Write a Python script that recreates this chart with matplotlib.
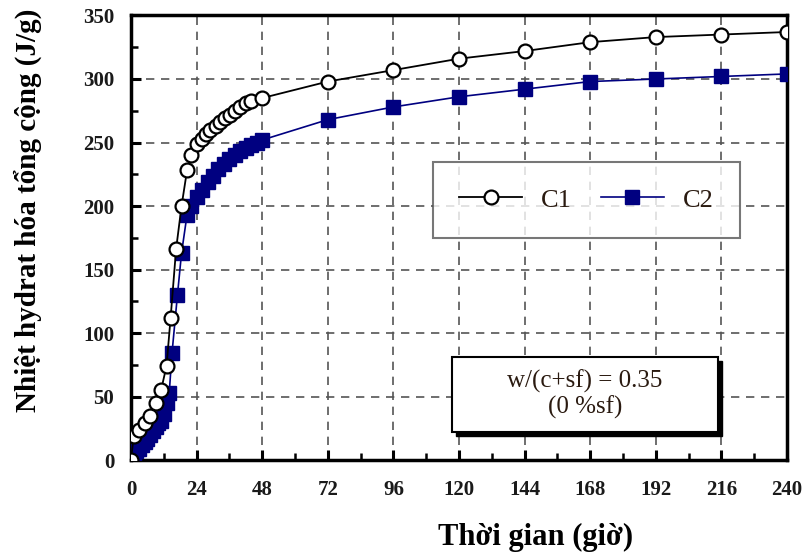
import numpy as np
import matplotlib.pyplot as plt
from matplotlib.patches import Rectangle

plt.rcParams['font.family'] = ['Liberation Serif', 'DejaVu Serif']

# C1
x_c1 = [0, 1, 3, 5, 7, 9, 11, 13, 14.5, 16.5, 18.5, 20.5, 22, 24, 26, 27.5,
        29, 31, 32.5, 34.5, 36.3, 38, 40, 42, 44, 48,
        72, 96, 120, 144, 168, 192, 216, 240]
y_c1 = [0, 19, 24, 29, 35, 45, 55, 74, 112, 166, 200, 228, 240, 249, 253, 257,
        260, 263, 266, 269, 272, 275, 278, 281, 283, 285,
        298, 307, 316, 322, 329, 333, 335, 337]

# C2
x_c2 = [0, 1, 2, 3, 4, 5, 6, 7, 8, 9, 10, 11, 12, 13, 14, 15, 17, 18.5, 20.5, 22,
        24, 26, 28, 30, 32, 34, 36, 38, 40, 42, 44, 46, 48,
        72, 96, 120, 144, 168, 192, 216, 240]
y_c2 = [2, 4, 7, 9, 12, 14, 17, 20, 23, 26, 29, 31, 36, 45, 53, 84, 130, 163, 193, 200,
        207, 213, 219, 224, 229, 233, 237, 240, 243, 246, 248, 250, 252,
        268, 278, 286, 292, 298, 300, 302, 304]

x_ticks = list(range(0, 241, 24))
y_ticks = list(range(0, 351, 50))

fig = plt.figure(figsize=(8.06, 5.53), dpi=100)
ax = fig.add_axes([0.1625, 0.168, 0.814, 0.804])

ax.plot(x_c1, y_c1, '-o', color='black', lw=1.3, ms=10, mfc='white',
        mec='black', mew=1.6, label='C1', zorder=4)
ax.plot(x_c2, y_c2, '-s', color='#000080', lw=1.2, ms=10.5, mfc='#000080',
        mec='#000080', label='C2', zorder=3)

ax.set_xlim(0, 240)
ax.set_ylim(0, 350)
ax.set_xticks(x_ticks)
ax.set_yticks(y_ticks)
ax.set_xticks(range(12, 240, 24), minor=True)
ax.set_yticks(range(25, 350, 50), minor=True)
ax.tick_params(which='major', direction='in', length=7, width=2.2,
               labelsize=15, labelcolor='#1a1a1a')
ax.tick_params(axis='x', which='major', pad=14)
ax.tick_params(axis='y', which='major', pad=12)
ax.tick_params(which='minor', direction='in', length=5, width=1.8)
for lab in ax.get_xticklabels() + ax.get_yticklabels():
    lab.set_fontweight('bold')
ax.grid(True, which='major', ls=(0, (5, 4)), color='#555555', lw=1.2)
for s in ax.spines.values():
    s.set_linewidth(2.5)

leg = ax.legend(loc='center', bbox_to_anchor=(0.694, 0.585), ncol=2,
                fontsize=19, frameon=True, fancybox=False, handlelength=2.4,
                columnspacing=1.1, borderpad=1.0, handletextpad=0.7,
                borderaxespad=0)
leg.get_frame().set_edgecolor('#555555')
leg.get_frame().set_linewidth(1.5)
leg.set_zorder(6)
for t in leg.get_texts():
    t.set_color('#2a1a10')

# parameter box with shadow
ax.add_patch(Rectangle((0.495, 0.055), 0.406, 0.169, transform=ax.transAxes,
                       facecolor='black', edgecolor='black', zorder=6))
ax.add_patch(Rectangle((0.489, 0.063), 0.406, 0.169, transform=ax.transAxes,
                       facecolor='white', edgecolor='black', lw=1.5, zorder=7))
ax.text(0.692, 0.148, 'w/(c+sf) = 0.35\n(0 %sf)', transform=ax.transAxes,
        ha='center', va='center', fontsize=18, linespacing=1.15,
        color='#2a1a10', zorder=8)

fig.text(28 / 806, 0.62, 'Nhiệt hydrat hóa tổng cộng (J/g)', rotation=90,
         ha='center', va='center', fontsize=21, fontweight='bold')
fig.text(0.664, 0.029, 'Thời gian (giờ)', ha='center', va='center',
         fontsize=22, fontweight='bold')

fig.savefig('out.png', dpi=100)
